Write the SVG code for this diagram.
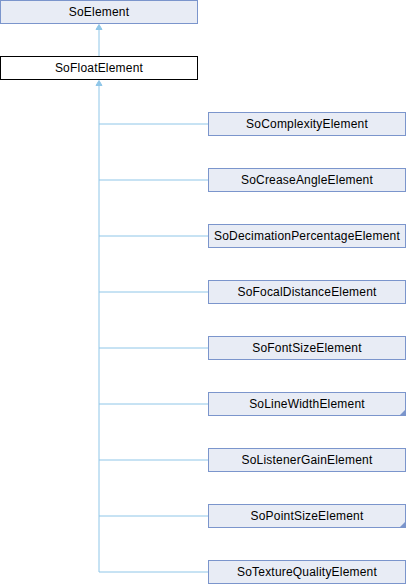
<svg xmlns="http://www.w3.org/2000/svg" width="406" height="584" viewBox="0 0 406 584">
<style>
.n rect{fill:#e8ecf5;stroke:#7b95cc;stroke-width:1}
.cur rect{fill:#ffffff;stroke:#000000;stroke-width:1}
text{font-family:"Liberation Sans",Arial,sans-serif;font-size:12px;letter-spacing:0.2px;fill:#000;text-anchor:middle}
.e{stroke:#8fc6e8;stroke-width:1;fill:none}
.ah{fill:#8fc6e8;stroke:#8fc6e8}
.fold{fill:#7b95cc}
</style>
<rect width="406" height="584" fill="#ffffff"/>
<g id="edges">
<path class="e" d="M99 56V29"/>
<path class="ah" d="M99 24.5L102 29.5H96Z"/>
<path class="e" d="M99 572V85"/>
<path class="ah" d="M99 80.5L102 85.5H96Z"/>
<path class="e" d="M99 124H208M99 180H208M99 236H208M99 292H208M99 348H208M99 404H208M99 460H208M99 516H208M99 572H208"/>
</g>
<g id="SoElement" class="n"><rect x="0.5" y="0.5" width="197" height="23"/><text x="99" y="16">SoElement</text></g>
<g id="SoFloatElement" class="cur"><rect x="0.5" y="56.5" width="197" height="23"/><text x="99" y="72">SoFloatElement</text></g>
<g id="SoComplexityElement" class="n"><rect x="208.5" y="112.5" width="197" height="23"/><text x="307" y="128">SoComplexityElement</text></g>
<g id="SoCreaseAngleElement" class="n"><rect x="208.5" y="168.5" width="197" height="23"/><text x="307" y="184">SoCreaseAngleElement</text></g>
<g id="SoDecimationPercentageElement" class="n"><rect x="208.5" y="224.5" width="197" height="23"/><text x="307" y="240">SoDecimationPercentageElement</text></g>
<g id="SoFocalDistanceElement" class="n"><rect x="208.5" y="280.5" width="197" height="23"/><text x="307" y="296">SoFocalDistanceElement</text></g>
<g id="SoFontSizeElement" class="n"><rect x="208.5" y="336.5" width="197" height="23"/><text x="307" y="352">SoFontSizeElement</text></g>
<g id="SoLineWidthElement" class="n"><rect x="208.5" y="392.5" width="197" height="23"/><path class="fold" d="M406 409V416H399Z"/><text x="307" y="408">SoLineWidthElement</text></g>
<g id="SoListenerGainElement" class="n"><rect x="208.5" y="448.5" width="197" height="23"/><text x="307" y="464">SoListenerGainElement</text></g>
<g id="SoPointSizeElement" class="n"><rect x="208.5" y="504.5" width="197" height="23"/><path class="fold" d="M406 521V528H399Z"/><text x="307" y="520">SoPointSizeElement</text></g>
<g id="SoTextureQualityElement" class="n"><rect x="208.5" y="560.5" width="197" height="23"/><text x="307" y="576">SoTextureQualityElement</text></g>
</svg>
